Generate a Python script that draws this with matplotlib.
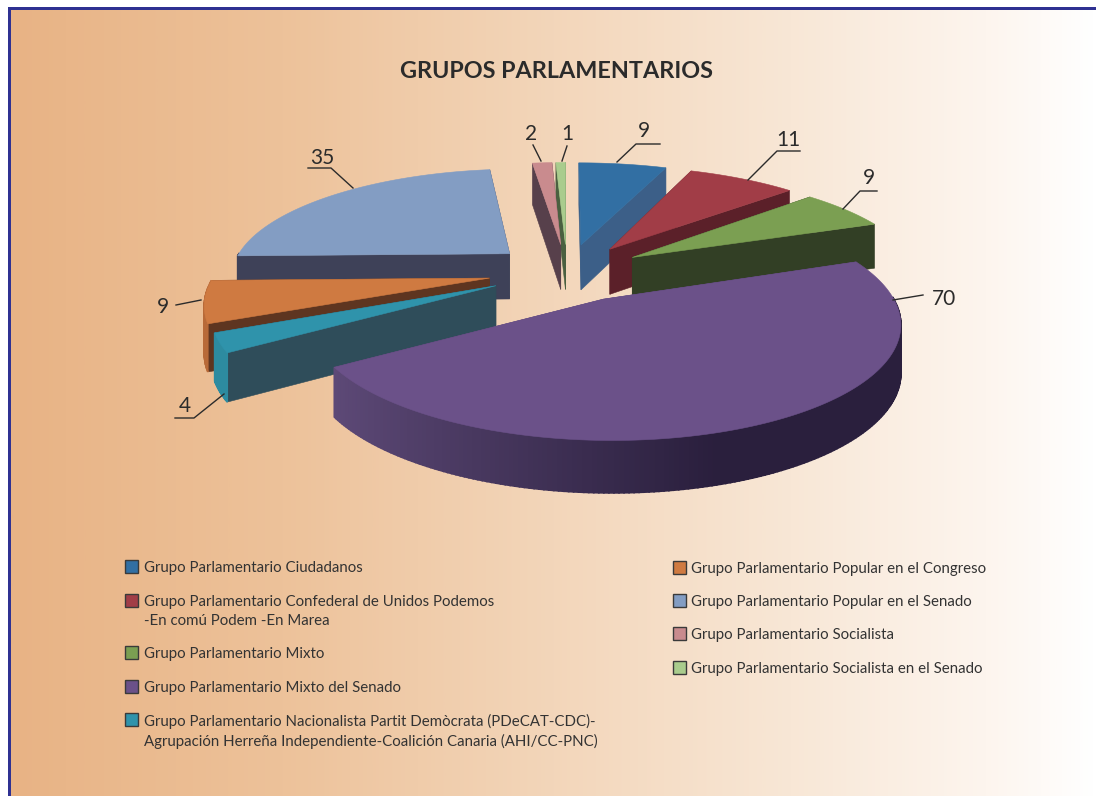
import numpy as np
import matplotlib
matplotlib.use("Agg")
import matplotlib.pyplot as plt
from matplotlib.colors import LinearSegmentedColormap, to_rgb
from matplotlib.patches import Polygon, Rectangle

plt.rcParams["font.family"] = ["Lato", "DejaVu Sans"]

values = [9, 11, 9, 70, 4, 9, 35, 2, 1]
top_colors = ["#326fa3", "#a13d47", "#7b9f52", "#6b5189", "#2f93ab", "#cf7a41", "#839dc3", "#c98b8e", "#a9cc8d"]
cut_colors = ["#3c5f88", "#5b2029", "#323f25", "#5a4575", "#2f4d5a", "#5e3520", "#3e4158", "#57404b", "#4a6040"]
outer_left = ["#3c5f88", "#5b2029", "#323f25", "#5e4a78", "#2d8ba0", "#b86a38", "#3e4158", "#57404b", "#4a6040"]
outer_right = ["#3c5f88", "#5b2029", "#323f25", "#2a1f3d", "#2d8ba0", "#b86a38", "#3e4158", "#57404b", "#4a6040"]

legend_left = [
    ("Grupo Parlamentario Ciudadanos", 0),
    ("Grupo Parlamentario Confederal de Unidos Podemos\n-En comú Podem -En Marea", 1),
    ("Grupo Parlamentario Mixto", 2),
    ("Grupo Parlamentario Mixto del Senado", 3),
    ("Grupo Parlamentario Nacionalista Partit Demòcrata (PDeCAT-CDC)-\nAgrupación Herreña Independiente-Coalición Canaria (AHI/CC-PNC)", 4),
]
legend_right = [
    ("Grupo Parlamentario Popular en el Congreso", 5),
    ("Grupo Parlamentario Popular en el Senado", 6),
    ("Grupo Parlamentario Socialista", 7),
    ("Grupo Parlamentario Socialista en el Senado", 8),
]
legend_left_y = [567, 601, 653, 687, 720]
legend_right_y = [568, 601, 634, 668]

# label x, y, then leader line points
label_pos = [
    (644, 131, [(617, 162), (636, 144), (660, 144)]),
    (788, 140, [(748, 180), (777, 151), (800, 151)]),
    (869, 178, [(843, 209), (860, 191), (877, 191)]),
    (944, 299, [(893, 300), (923, 295)]),
    (185, 406, [(224, 394), (194, 418), (175, 418)]),
    (163, 307, [(201, 300), (176, 305)]),
    (322, 158, [(353, 188), (331, 168), (308, 168)]),
    (531, 134, [(541, 161), (533, 145)]),
    (567, 134, [(562, 161), (567, 146)]),
]

cx, cy = 567, 272
radius = 290
squash = 0.369
persp = 0.19
explode = 0.27
depth = 46
# the left and front slices come out a bit narrower than the back ones
narrow = [1, 1, 0.99, 0.955, 0.93, 0.944, 0.965, 1, 1]
short = [1, 1, 1, 0.97, 1, 1, 1, 1, 1]


def project(px, py, down=0):
    d = 1 + persp * py
    x = cx + px * radius / d
    y = cy - py * squash * radius / d
    return x, y + down * depth * (1 / d) ** 0.5


fig = plt.figure(figsize=(10.96, 7.96), dpi=100)
ax = fig.add_axes([0, 0, 1, 1])
ax.set_xlim(0, 1096)
ax.set_ylim(796, 0)
ax.axis("off")

bg = LinearSegmentedColormap.from_list(
    "bg", [(0, "#e8b385"), (0.25, "#edc29a"), (0.5, "#f3d6ba"), (0.72, "#f8e7d6"), (0.9, "#fdf5ee"), (1, "#ffffff")])
ax.imshow(np.linspace(0, 1, 512).reshape(1, -1), cmap=bg, extent=(11, 1096, 796, 10), aspect="auto", zorder=0)
ax.add_patch(Rectangle((8, 7), 1088, 3, fc="#2f3192", ec="none", zorder=1))
ax.add_patch(Rectangle((8, 7), 3, 789, fc="#2f3192", ec="none", zorder=1))

ax.text(556, 72, "GRUPOS PARLAMENTARIOS", ha="center", va="center", fontsize=16.8, fontweight="bold", color="#2b2b2b")

total = sum(values)
edges = np.cumsum([0] + values) / total * 2 * np.pi
slices = []
for i, v in enumerate(values):
    t0, t1 = edges[i], edges[i + 1]
    mid = (t0 + t1) / 2
    ox, oy = explode * np.sin(mid), explode * np.cos(mid)
    t = np.linspace(t0, t1, max(8, int(v * 3)))
    arc_x = ox + narrow[i] * np.sin(t)
    arc_y = oy + short[i] * np.cos(t)
    slices.append((oy, i, ox, arc_x, arc_y, t))

# back slices first
for oy, i, ox, arc_x, arc_y, t in sorted(slices, key=lambda s: -s[0]):
    z = 3 - oy
    c0, c1 = np.array(to_rgb(outer_left[i])), np.array(to_rgb(outer_right[i]))
    faces = []
    for k in [0, -1]:
        pts = [project(ox, oy), project(arc_x[k], arc_y[k]), project(arc_x[k], arc_y[k], 1), project(ox, oy, 1)]
        faces.append(((oy + arc_y[k]) / 2, pts, cut_colors[i], 0.4))
    for k in range(len(arc_x) - 1):
        # the back of the rim cannot be seen
        if np.cos(t[k]) > 0.02 or np.cos(t[k + 1]) > 0.02:
            continue
        pts = [project(arc_x[k], arc_y[k]), project(arc_x[k + 1], arc_y[k + 1]),
               project(arc_x[k + 1], arc_y[k + 1], 1), project(arc_x[k], arc_y[k], 1)]
        f = np.clip((arc_x[k] + 0.7) / 1.1, 0, 1)
        faces.append(((arc_y[k] + arc_y[k + 1]) / 2, pts, tuple(c0 + (c1 - c0) * f), 1.2))
    for n, (_, pts, col, lw) in enumerate(sorted(faces, key=lambda f: -f[0])):
        ax.add_patch(Polygon(pts, closed=True, fc=col, ec=col, lw=lw, zorder=z + n * 0.0001))
    top = [project(ox, oy)] + [project(a, b) for a, b in zip(arc_x, arc_y)]
    ax.add_patch(Polygon(top, closed=True, fc=top_colors[i], ec=top_colors[i], lw=0.4, zorder=z + 0.05))

for v, (lx, ly, line) in zip(values, label_pos):
    ax.text(lx, ly, str(v), ha="center", va="center", fontsize=15, color="#2b2b2b", zorder=20)
    ax.plot([p[0] for p in line], [p[1] for p in line], color="#2b2b2b", lw=1, zorder=20)


def draw_legend(entries, ys, box_x, text_x):
    for (label, idx), y in zip(entries, ys):
        ax.add_patch(Rectangle((box_x, y - 7), 13, 13, fc=top_colors[idx], ec="#3a3a3a", lw=1, zorder=5))
        ax.text(text_x, y - 6, label, ha="left", va="top", fontsize=10.85, color="#333333",
                linespacing=1.42, zorder=5)


draw_legend(legend_left, legend_left_y, 125, 144)
draw_legend(legend_right, legend_right_y, 673, 691)

fig.savefig("out.png", dpi=100)
